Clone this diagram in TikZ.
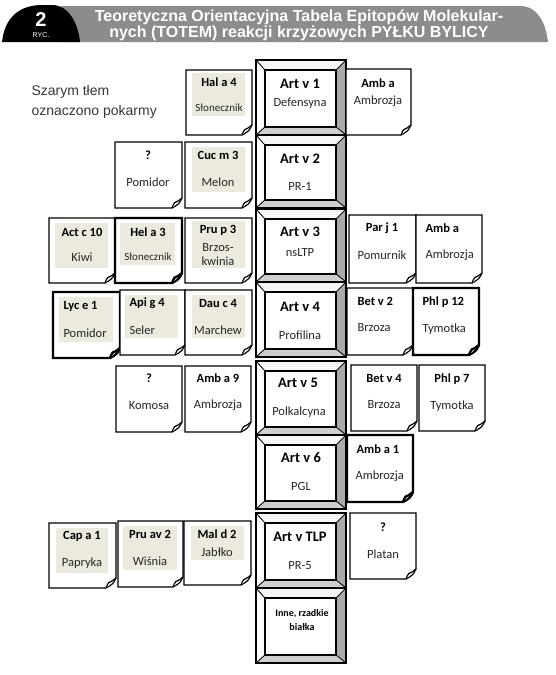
\documentclass[tikz,border=0pt]{standalone}
\usepackage{fontspec}
\setmainfont{Carlito}
\newfontfamily\arial{Liberation Sans}
\usepackage{tikz}
\definecolor{tlo}{RGB}{236,233,223}
\definecolor{pasek}{RGB}{140,140,140}
\definecolor{prawy}{RGB}{170,170,170}
\definecolor{dolny}{RGB}{206,206,206}
\definecolor{gora}{RGB}{246,246,246}
\definecolor{opis}{RGB}{55,55,55}
\tikzset{
 kartka/.style={draw=black,fill=white,line width=1.2pt,line join=miter},
 gruba/.style={line width=2.4pt},
 bok/.style={draw=black,line width=0.7pt},
 ramka/.style={draw=black,line width=1.6pt},
 kod/.style={font=\bfseries\fontsize{12.5}{14}\selectfont},
 nazwa/.style={font=\fontsize{12.5}{14}\selectfont,text=black!85},
 drobna/.style={font=\fontsize{11}{13}\selectfont,text=black!85},
 tytul/.style={font=\bfseries\fontsize{14.5}{16}\selectfont},
 tytulpod/.style={font=\fontsize{12.5}{14}\selectfont,text=black!85},
}
% kartka z zagietym rogiem: [opcje]{x1}{y1}{x2}{y2}
\newcommand{\kartka}[5][]{%
 \filldraw[kartka,#1](#2,#3)--(#4,#3)--(#4,#5-10).. controls (#4-3,#5-4) .. (#4-10,#5)--(#2,#5)--cycle;
 \draw[kartka,#1](#4-10,#5).. controls (#4-8,#5-5) and (#4-7,#5-7) .. (#4-4,#5-7)--(#4,#5-10);
}
% blok Art v: {x1}{y1}{x2}{y2}
\newcommand{\artblok}[4]{%
 \filldraw[bok,fill=white](#1,#2)--(#1+9,#2+10)--(#1+9,#4-8)--(#1,#4)--cycle;
 \filldraw[bok,fill=gora](#1,#2)--(#3,#2)--(#3-10,#2+10)--(#1+9,#2+10)--cycle;
 \filldraw[bok,fill=prawy](#3,#2)--(#3,#4)--(#3-10,#4-8)--(#3-10,#2+10)--cycle;
 \filldraw[bok,fill=dolny](#1,#4)--(#3,#4)--(#3-10,#4-8)--(#1+9,#4-8)--cycle;
 \draw[ramka](#1,#2)rectangle(#3,#4);
 \draw[ramka](#1+9,#2+10)rectangle(#3-10,#4-8);
}

\begin{document}
\begin{tikzpicture}[x=1pt,y=-1pt]
\useasboundingbox (0,0) rectangle (555,675);
% naglowek
\fill[pasek](60,42)--(60,6)--(520,6).. controls (538,6) and (546,24) .. (548,42)--cycle;
\fill[black](2,42).. controls (5,15) and (22,5) .. (42,5)--(52,5).. controls (68,5) and (78,22) .. (80,42)--cycle;
\node[font=\arial\bfseries\fontsize{20}{20}\selectfont,text=white] (nr) at (41,20) {2};
\node[font=\arial\fontsize{7}{7}\selectfont,text=white] (ryc) at (41,35) {RYC.};
\node[font=\arial\bfseries\fontsize{16}{16}\selectfont,text=white,align=center] (naglowek) at (299,25)
 {Teoretyczna Orientacyjna Tabela Epitopów Molekular-\\nych (TOTEM) reakcji krzyżowych PYŁKU BYLICY};
\node[font=\arial\fontsize{14}{20}\selectfont,text=opis,align=left,anchor=west] (legenda) at (28,102)
 {Szarym tłem\\oznaczono pokarmy};

% srodkowa kolumna
\artblok{256}{60}{346}{135}
\artblok{256}{135}{346}{208}
\artblok{256}{209}{346}{282}
\artblok{256}{282}{346}{357}
\artblok{256}{361}{346}{435}
\artblok{256}{435}{346}{509}
\artblok{256}{513}{346}{588}
\artblok{256}{588}{346}{663}
\node[tytul] (artv1) at (300,84) {Art v 1};
\node[tytulpod] (defensyna) at (300,103) {Defensyna};
\node[tytul] (artv2) at (300,159) {Art v 2};
\node[tytulpod] (pr1) at (300,186) {PR-1};
\node[tytul] (artv3) at (300,232) {Art v 3};
\node[tytulpod] (nsltp) at (300,253) {nsLTP};
\node[tytul] (artv4) at (300,307) {Art v 4};
\node[tytulpod] (profilina) at (300,335) {Profilina};
\node[tytul] (artv5) at (298,383) {Art v 5};
\node[tytulpod] (polkalcyna) at (299,412) {Polkalcyna};
\node[tytul] (artv6) at (301,458) {Art v 6};
\node[tytulpod] (pgl) at (301,486) {PGL};
\node[tytul] (artvtlp) at (300,537) {Art v TLP};
\node[tytulpod] (pr5) at (300,566) {PR-5};
\node[font=\bfseries\fontsize{10}{14}\selectfont,align=center] (inne) at (302,620) {Inne, rzadkie\\białka};

% rzad 1
\kartka{186}{70}{252}{135}
\fill[tlo](192,73)rectangle(245,116);
\node[kod] (hala4) at (219,82) {Hal a 4};
\node[drobna] (hala4n) at (219,108) {Słonecznik};
\kartka{346}{69}{411}{135}
\node[kod] (amba) at (378,83) {Amb a};
\node[nazwa] (amban) at (378,101) {Ambrozja};

% rzad 2
\kartka{115}{142}{182}{208}
\node[kod] (pomq) at (148,155) {?};
\node[nazwa] (pomqn) at (148,182) {Pomidor};
\kartka{185}{142}{252}{208}
\fill[tlo](192,147)rectangle(245,192);
\node[kod] (cucm3) at (218,155) {Cuc m 3};
\node[nazwa] (cucm3n) at (218,182) {Melon};

% rzad 3
\kartka{49}{218}{115}{283}
\fill[tlo](55,223)rectangle(108,268);
\node[kod] (actc10) at (82,232) {Act c 10};
\node[nazwa] (actc10n) at (82,257) {Kiwi};
\kartka[gruba]{115}{218}{182}{283}
\fill[tlo](120,223)rectangle(175,265);
\node[kod] (hela3) at (148,232) {Hel a 3};
\node[drobna] (hela3n) at (148,257) {Słonecznik};
\kartka{185}{218}{252}{283}
\fill[tlo](192,221)rectangle(245,268);
\node[kod] (prup3) at (218,230) {Pru p 3};
\node[nazwa,align=center] (prup3n) at (218,255) {Brzos-\\kwinia};
\kartka{349}{215}{416}{283}
\node[kod] (parj1) at (382,228) {Par j 1};
\node[nazwa] (parj1n) at (382,255) {Pomurnik};
\kartka{416}{215}{482}{283}
\node[kod,anchor=west] (amba2) at (422,228) {Amb a};
\node[nazwa,anchor=west] (amba2n) at (422,255) {Ambrozja};

% rzad 4
\kartka[gruba]{53}{292}{120}{358}
\fill[tlo](59,297)rectangle(113,342);
\node[kod,anchor=west] (lyce1) at (60,306) {Lyc e 1};
\node[nazwa,anchor=west] (lyce1n) at (60,333) {Pomidor};
\kartka{120}{290}{185}{355}
\fill[tlo](125,295)rectangle(178,338);
\node[kod,anchor=west] (apig4) at (126,303) {Api g 4};
\node[nazwa,anchor=west] (apig4n) at (126,330) {Seler};
\kartka{185}{290}{252}{355}
\fill[tlo](192,295)rectangle(245,338);
\node[kod] (dauc4) at (218,303) {Dau c 4};
\node[nazwa] (dauc4n) at (218,330) {Marchew};
\kartka{347}{288}{413}{355}
\node[kod,anchor=west] (betv2) at (354,301) {Bet v 2};
\node[nazwa,anchor=west] (betv2n) at (354,328) {Brzoza};
\kartka[gruba]{413}{288}{479}{355}
\node[kod,anchor=west] (phlp12) at (419,302) {Phl p 12};
\node[nazwa,anchor=west] (phlp12n) at (419,329) {Tymotka};

% rzad 5
\kartka{116}{366}{182}{432}
\node[kod] (komq) at (149,378) {?};
\node[nazwa] (komqn) at (149,406) {Komosa};
\kartka{185}{366}{251}{432}
\node[kod] (amba9) at (218,378) {Amb a 9};
\node[nazwa] (amba9n) at (218,405) {Ambrozja};
\kartka{351}{365}{417}{431}
\node[kod] (betv4) at (384,378) {Bet v 4};
\node[nazwa] (betv4n) at (384,405) {Brzoza};
\kartka{419}{365}{485}{431}
\node[kod] (phlp7) at (452,379) {Phl p 7};
\node[nazwa] (phlp7n) at (452,406) {Tymotka};

% rzad 6
\kartka[gruba]{347}{435}{413}{502}
\node[kod,anchor=west] (amba1) at (353,449) {Amb a 1};
\node[nazwa,anchor=west] (amba1n) at (352,476) {Ambrozja};

% rzad 7
\kartka{49}{523}{116}{588}
\fill[tlo](56,528)rectangle(108,573);
\node[kod] (capa1) at (82,536) {Cap a 1};
\node[nazwa] (capa1n) at (82,563) {Papryka};
\kartka{118}{521}{183}{587}
\fill[tlo](123,526)rectangle(177,570);
\node[kod] (pruav2) at (150,534) {Pru av 2};
\node[nazwa] (pruav2n) at (150,561) {Wiśnia};
\kartka{184}{521}{251}{585}
\fill[tlo](191,526)rectangle(244,560);
\node[kod] (mald2) at (217,534) {Mal d 2};
\node[nazwa] (mald2n) at (217,552) {Jabłko};
\kartka{350}{513}{416}{579}
\node[kod] (platq) at (383,527) {?};
\node[nazwa] (platqn) at (383,554) {Platan};
\end{tikzpicture}
\end{document}
